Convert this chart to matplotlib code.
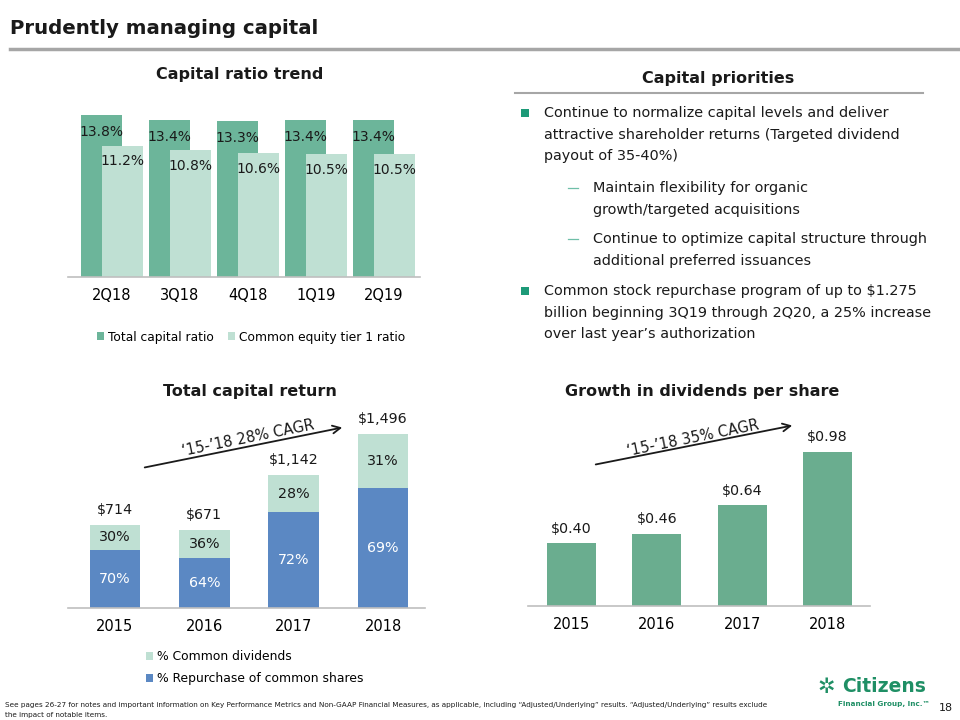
import matplotlib
matplotlib.use("Agg")
import matplotlib.pyplot as plt
from matplotlib.patches import Rectangle, FancyArrowPatch

plt.rcParams['font.family'] = ['DejaVu Sans']

# ---------------- data ----------------
quarters = ["2Q18", "3Q18", "4Q18", "1Q19", "2Q19"]
total_capital_ratio = [13.8, 13.4, 13.3, 13.4, 13.4]
cet1_ratio = [11.2, 10.8, 10.6, 10.5, 10.5]

years = ["2015", "2016", "2017", "2018"]
total_capital_return = [714, 671, 1142, 1496]
total_return_labels = ["$714", "$671", "$1,142", "$1,496"]
pct_dividends = [30, 36, 28, 31]
pct_repurchase = [70, 64, 72, 69]

dps = [0.40, 0.46, 0.64, 0.98]
dps_labels = ["$0.40", "$0.46", "$0.64", "$0.98"]

# ---------------- style ----------------
DARK_G = "#6CB59A"
LIGHT_G = "#BFE0D3"
BLUE = "#5B88C3"
DIV_G = "#6AAD8F"
TEAL = "#1D9A78"
LOGO_G = "#1F8F65"
AX_GRAY = "#BFBFBF"
TXT = "#1A1A1A"

W, H = 960, 720
fig = plt.figure(figsize=(9.6, 7.2), dpi=100)


def fx(x):
    return x / W


def fy(y):
    return 1 - y / H


def add_ax(x0, y0, x1, y1):
    ax = fig.add_axes([fx(x0), fy(y1), (x1 - x0) / W, (y1 - y0) / H])
    for s in ["top", "right", "left"]:
        ax.spines[s].set_visible(False)
    ax.spines["bottom"].set_color(AX_GRAY)
    ax.spines["bottom"].set_linewidth(1.2)
    ax.set_yticks([])
    ax.tick_params(axis="x", length=0)
    ax.patch.set_alpha(0)
    return ax


# ---------------- header ----------------
fig.text(fx(10), fy(29), "Prudently managing capital", fontsize=14.2,
         fontweight="bold", va="center", ha="left", color=TXT)
fig.add_artist(plt.Line2D([fx(10), fx(960)], [fy(49), fy(49)], color="#A6A6A6",
                          lw=2.5, transform=fig.transFigure))

# ---------------- Capital ratio trend ----------------
fig.text(fx(240), fy(75), "Capital ratio trend", fontsize=11.5, fontweight="bold",
         ha="center", va="center", color=TXT)
ax1 = add_ax(68, 277 - 15 * 11.74, 420, 277)
xs = list(range(len(quarters)))
off = 0.155
bw = 0.6
b1 = ax1.bar([x - off for x in xs], total_capital_ratio, width=bw, color=DARK_G,
             label="Total capital ratio")
b2 = ax1.bar([x + off for x in xs], cet1_ratio, width=bw, color=LIGHT_G,
             label="Common equity tier 1 ratio")
ax1.set_xlim(-0.647, 4.53)
ax1.set_ylim(0, 15)
for x, v in zip(xs, total_capital_ratio):
    ax1.annotate(f"{v:.1f}%", (x - off, v), xytext=(0, -12.2), textcoords="offset points",
                 ha="center", va="center", fontsize=10, color=TXT)
for x, v in zip(xs, cet1_ratio):
    ax1.annotate(f"{v:.1f}%", (x + off, v), xytext=(0, -11.5), textcoords="offset points",
                 ha="center", va="center", fontsize=10, color=TXT)
ax1.set_xticks(xs)
ax1.set_xticklabels(quarters, fontsize=10.5)
ax1.tick_params(axis="x", pad=8)
fig.legend(handles=[b1, b2], loc="center", bbox_to_anchor=(fx(251), fy(337)),
           ncol=2, frameon=False, fontsize=8.8, handlelength=0.6, handleheight=0.6,
           handletextpad=0.3, columnspacing=1.2, borderaxespad=0)

# ---------------- Capital priorities ----------------
fig.text(fx(718), fy(78), "Capital priorities", fontsize=11.5, fontweight="bold",
         ha="center", va="center", color=TXT)
fig.add_artist(plt.Line2D([fx(515), fx(923)], [fy(93), fy(93)], color="#A6A6A6",
                          lw=1.5, transform=fig.transFigure))
body = dict(fontsize=10.4, ha="left", va="center", color=TXT, parse_math=False)
lines_b1 = ["Continue to normalize capital levels and deliver",
            "attractive shareholder returns (Targeted dividend",
            "payout of 35-40%)"]
lines_s1 = ["Maintain flexibility for organic", "growth/targeted acquisitions"]
lines_s2 = ["Continue to optimize capital structure through", "additional preferred issuances"]
lines_b2 = ["Common stock repurchase program of up to $1.275",
            "billion beginning 3Q19 through 2Q20, a 25% increase",
            "over last year\u2019s authorization"]
LS = 21.7


def square(x, y, size=8, color=TEAL):
    fig.add_artist(Rectangle((fx(x - size / 2), fy(y + size / 2)), size / W, size / H,
                             transform=fig.transFigure, color=color, lw=0))


def dash(x, y):
    fig.add_artist(plt.Line2D([fx(x - 5), fx(x + 5)], [fy(y), fy(y)], color="#6FBFA8",
                              lw=0.9, transform=fig.transFigure))


square(525, 113)
for i, t in enumerate(lines_b1):
    fig.text(fx(544), fy(113 + i * LS), t, **body)
dash(573, 188)
for i, t in enumerate(lines_s1):
    fig.text(fx(593), fy(188 + i * LS), t, **body)
dash(573, 239)
for i, t in enumerate(lines_s2):
    fig.text(fx(593), fy(239 + i * LS), t, **body)
square(525, 291)
for i, t in enumerate(lines_b2):
    fig.text(fx(544), fy(291 + i * LS), t, **body)

# ---------------- Total capital return ----------------
fig.text(fx(250), fy(392), "Total capital return", fontsize=11.5, fontweight="bold",
         ha="center", va="center", color=TXT)
ppu = 174 / 1496
ax3 = add_ax(68, 608 - 1620 * ppu, 425, 608)
xs4 = list(range(len(years)))
rep_vals = [t * p / 100 for t, p in zip(total_capital_return, pct_repurchase)]
div_vals = [t * p / 100 for t, p in zip(total_capital_return, pct_dividends)]
bw3 = 0.57
r1 = ax3.bar(xs4, rep_vals, width=bw3, color=BLUE, label="% Repurchase of common shares")
r2 = ax3.bar(xs4, div_vals, width=bw3, bottom=rep_vals, color=LIGHT_G,
             label="% Common dividends")
ax3.set_xlim(-0.526, 3.47)
ax3.set_ylim(0, 1620)
for x, rv, dv, p1, p2 in zip(xs4, rep_vals, div_vals, pct_repurchase, pct_dividends):
    ax3.text(x, rv / 2, f"{p1}%", ha="center", va="center", fontsize=10.3, color="white")
    ax3.text(x, rv + dv / 2, f"{p2}%", ha="center", va="center", fontsize=10.3, color=TXT)
for x, t, lab in zip(xs4, total_capital_return, total_return_labels):
    ax3.annotate(lab, (x, t), xytext=(0, 11), textcoords="offset points", ha="center",
                 va="center", fontsize=10.3, color=TXT, parse_math=False)
ax3.set_xticks(xs4)
ax3.set_xticklabels(years, fontsize=10.5)
ax3.tick_params(axis="x", pad=8)
fig.legend(handles=[r2, r1], loc="upper left", bbox_to_anchor=(fx(146), fy(650)),
           ncol=1, frameon=False, fontsize=8.9, handlelength=0.6, handleheight=0.6,
           handletextpad=0.3, labelspacing=0.75, borderaxespad=0, borderpad=0)

fig.add_artist(FancyArrowPatch(
    (fx(142), fy(468)), (fx(345), fy(427)), transform=fig.transFigure,
    arrowstyle="->", mutation_scale=14, lw=1.3, color=TXT))
fig.text(fx(248), fy(438), "\u201815-\u201918 28% CAGR", rotation=11.5, fontsize=10.5,
         ha="center", va="center", color=TXT, rotation_mode="anchor")

# ---------------- Growth in dividends per share ----------------
fig.text(fx(702), fy(392), "Growth in dividends per share", fontsize=11.5,
         fontweight="bold", ha="center", va="center", color=TXT)
ppu2 = 154 / 0.98
ax4 = add_ax(528, 606 - 1.184 * ppu2, 870, 606)
ax4.bar(xs4, dps, width=0.575, color=DIV_G)
ax4.set_xlim(-0.51, 3.5)
ax4.set_ylim(0, 1.184)
for x, v, lab in zip(xs4, dps, dps_labels):
    ax4.annotate(lab, (x, v), xytext=(0, 10.5), textcoords="offset points", ha="center",
                 va="center", fontsize=10.3, color=TXT, parse_math=False)
ax4.set_xticks(xs4)
ax4.set_xticklabels(years, fontsize=10.5)
ax4.tick_params(axis="x", pad=8)

fig.add_artist(FancyArrowPatch(
    (fx(593), fy(465)), (fx(795), fy(425)), transform=fig.transFigure,
    arrowstyle="->", mutation_scale=14, lw=1.3, color=TXT))
fig.text(fx(693), fy(438), "\u201815-\u201918 35% CAGR", rotation=11.5, fontsize=10.5,
         ha="center", va="center", color=TXT, rotation_mode="anchor")

# ---------------- footer ----------------
fig.text(fx(5), fy(705), "See pages 26-27 for notes and important information on Key Performance "
         "Metrics and Non-GAAP Financial Measures, as applicable, including \u201cAdjusted/Underlying\u201d "
         "results. \u201cAdjusted/Underlying\u201d results exclude", fontsize=5.2, ha="left",
         va="center", color=TXT)
fig.text(fx(5), fy(715), "the impact of notable items.", fontsize=5.2, ha="left",
         va="center", color=TXT)
fig.text(fx(826), fy(687), "\u2732", fontsize=15, color=LOGO_G, ha="center", va="center",
         fontweight="bold")
fig.text(fx(884), fy(687), "Citizens", fontsize=13.5, color=LOGO_G, ha="center",
         va="center", fontweight="bold")
fig.text(fx(884), fy(704), "Financial Group, Inc.\u2122", fontsize=5.2, color=LOGO_G,
         ha="center", va="center", fontweight="bold")
fig.text(fx(946), fy(708), "18", fontsize=8, ha="center", va="center", color=TXT)

fig.savefig("out.png", dpi=100)
